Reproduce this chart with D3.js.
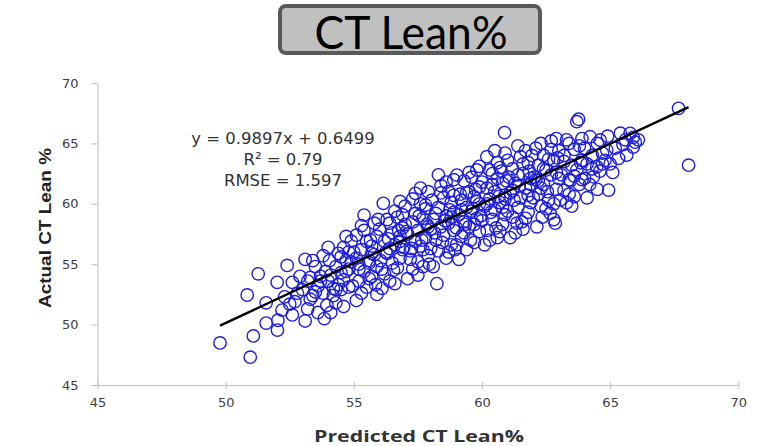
<!DOCTYPE html>
<html>
<head>
<meta charset="utf-8">
<script src="https://cdn.jsdelivr.net/npm/d3@7"></script>
<style>
  body { margin: 0; background: #fff; }
  svg { display: block; }
</style>
</head>
<body>
<svg id="chart" width="769" height="446"></svg>
<script>
// chart values
var title = 'CT Lean%'
var xLabel = 'Predicted CT Lean%'
var yLabel = 'Actual CT Lean %'
var xTicks = [45, 50, 55, 60, 65, 70]
var yTicks = [45, 50, 55, 60, 65, 70]
var slope = 0.9897
var intercept = 0.6499
var statLines = ['y = 0.9897x + 0.6499', 'R\u00b2 = 0.79', 'RMSE = 1.597']

// [predicted, actual]
var points = [
    [49.78, 48.48], [50.84, 52.45], [50.96, 47.3], [51.08, 49.06], [51.27, 54.2], [51.58, 51.8], [51.58, 50.13],
    [52.01, 53.5], [52.04, 50.36], [52.02, 49.55], [52.4, 54.9], [52.6, 53.5], [52.6, 50.8], [53.1, 50.3],
    [53.1, 55.4], [53.4, 55.3], [53.85, 50.5],
    [52.3, 52.3], [52.5, 51.7], [52.8, 52.6], [52.9, 54.0], [52.2, 51.2],
    [53.2, 51.3], [53.3, 52.1], [53.5, 52.7], [53.6, 53.2], [53.2, 53.6], [53.7, 54.0], [53.9, 54.4],
    [53.5, 54.8], [53.8, 55.7], [53.4, 52.4], [53.7, 53.6], [53.95, 51.6], [53.3, 53.9],
    [54.1, 51.0], [54.3, 51.8], [54.2, 52.4], [54.5, 52.9], [54.4, 53.3], [54.6, 53.7], [54.1, 54.1],
    [54.7, 54.4], [54.3, 54.8], [54.9, 55.2], [54.5, 55.6], [54.8, 56.0], [54.6, 56.4], [54.9, 56.9],
    [54.7, 57.3], [54.2, 53.0], [54.8, 54.6], [54.4, 55.9], [54.95, 53.2], [54.05, 55.3],
    [55.1, 52.0], [55.3, 52.6], [55.5, 53.1], [55.2, 53.6], [55.7, 54.0], [55.4, 54.4], [55.9, 54.8],
    [55.6, 55.1], [55.1, 55.5], [55.8, 55.8], [55.3, 56.2], [55.7, 56.5], [55.5, 56.9], [55.9, 57.3],
    [55.4, 57.8], [55.8, 58.4], [55.95, 58.7], [55.2, 54.6], [55.6, 55.3], [55.0, 56.0], [55.85, 53.3],
    [55.65, 57.0], [55.4, 59.07],
    [56.1, 53.0], [56.4, 53.6], [56.2, 54.2], [56.7, 54.7], [56.5, 55.1], [56.8, 55.5], [56.3, 55.9],
    [56.9, 56.2], [56.6, 56.6], [56.2, 56.9], [56.8, 57.3], [56.5, 57.6], [56.9, 58.0], [56.4, 58.4],
    [56.7, 58.9], [56.6, 59.4], [56.15, 60.04], [56.05, 55.3], [56.95, 56.4], [56.35, 57.1], [56.75, 57.8],
    [56.55, 54.5], [56.25, 56.0], [56.8, 60.2],
    [57.1, 53.8], [57.3, 54.6], [57.7, 54.8], [57.5, 55.2], [57.9, 55.7], [57.2, 56.1], [57.6, 56.5],
    [57.4, 56.9], [57.8, 57.2], [57.1, 57.5], [57.5, 57.8], [57.9, 58.1], [57.3, 58.5], [57.7, 58.8],
    [57.4, 59.2], [57.8, 59.6], [57.6, 60.0], [57.4, 60.87], [57.9, 61.0], [57.25, 56.3], [57.65, 57.0],
    [57.05, 57.7], [57.85, 58.3], [57.55, 59.0], [57.95, 55.0],
    [58.24, 53.4], [58.1, 54.8], [58.6, 55.5], [58.3, 56.1], [58.8, 56.6], [58.2, 57.0], [58.5, 57.4],
    [58.9, 57.8], [58.4, 58.1], [58.7, 58.4], [58.1, 58.7], [58.6, 59.0], [58.9, 59.3], [58.3, 59.7],
    [58.8, 60.1], [58.5, 60.5], [58.7, 61.0], [58.4, 61.5], [58.9, 62.0], [58.3, 62.4], [58.15, 57.6],
    [58.55, 58.6], [58.75, 59.5], [58.45, 56.8], [58.05, 60.3], [58.95, 56.2],
    [59.1, 55.4], [59.4, 56.2], [59.7, 56.8], [59.2, 57.3], [59.9, 57.7], [59.5, 58.1], [59.3, 58.5],
    [59.8, 58.8], [59.1, 59.1], [59.6, 59.4], [59.4, 59.7], [59.9, 60.0], [59.2, 60.3], [59.7, 60.6],
    [59.5, 61.0], [59.9, 61.4], [59.3, 61.9], [59.02, 62.38], [59.8, 62.8], [59.35, 58.3], [59.65, 59.6],
    [59.15, 60.8], [59.55, 57.0], [59.75, 61.2], [59.95, 59.0],
    [60.1, 56.6], [60.3, 57.0], [60.6, 57.2], [60.2, 57.8], [60.8, 58.3], [60.4, 58.7], [60.9, 59.1],
    [60.5, 59.5], [60.1, 59.8], [60.7, 60.1], [60.3, 60.4], [60.9, 60.7], [60.5, 61.0], [60.2, 61.3],
    [60.8, 61.7], [60.6, 62.1], [60.4, 62.5], [60.7, 63.0], [60.19, 63.9], [60.9, 64.2], [60.88, 65.9],
    [60.35, 59.3], [60.65, 60.6], [60.95, 61.9], [60.55, 58.0], [60.75, 62.7],
    [61.1, 57.2], [61.36, 58.4], [61.6, 57.9], [61.2, 58.9], [61.8, 59.3], [61.4, 59.7], [61.9, 60.1],
    [61.5, 60.5], [61.1, 60.9], [61.7, 61.3], [61.3, 61.7], [61.9, 62.1], [61.6, 62.5], [61.2, 62.9],
    [61.8, 63.4], [61.5, 63.9], [61.7, 64.4], [61.25, 60.3], [61.45, 61.5], [61.85, 62.7], [61.05, 62.2],
    [61.95, 64.0], [61.55, 58.5],
    [62.14, 58.1], [62.86, 58.4], [62.8, 58.7], [62.66, 59.2], [62.3, 59.8], [62.6, 60.3], [62.2, 60.8],
    [62.9, 61.2], [62.4, 61.6], [62.1, 62.0], [62.7, 62.4], [62.5, 62.8], [62.2, 63.2], [62.8, 63.6],
    [62.4, 64.0], [62.7, 64.5], [62.3, 65.0], [62.9, 65.4], [62.55, 61.0], [62.05, 62.2], [62.95, 63.8],
    [62.35, 58.9],
    [63.05, 60.3], [63.3, 60.1], [63.6, 60.6], [63.2, 61.1], [63.8, 61.6], [63.4, 62.0], [63.1, 62.4],
    [63.7, 62.8], [63.5, 63.2], [63.9, 63.6], [63.2, 64.0], [63.6, 64.5], [63.4, 65.0], [63.9, 65.4],
    [63.7, 66.8], [63.77, 67.0], [63.45, 61.9], [63.85, 63.4], [63.3, 65.3],
    [64.1, 60.5], [64.94, 61.14], [64.35, 62.24], [64.2, 61.6], [64.6, 62.7], [64.48, 63.07], [64.8, 63.6],
    [64.3, 64.0], [64.87, 64.45], [64.5, 65.0], [64.61, 65.28], [64.22, 65.55], [64.7, 63.3], [64.1, 63.3],
    [65.1, 62.6], [65.33, 63.77], [65.65, 64.04], [65.2, 64.6], [65.98, 65.1], [65.4, 65.84], [65.78, 65.83],
    [65.5, 64.9], [65.9, 64.7],
    [66.1, 65.3], [67.67, 67.9], [68.06, 63.2],
    // denser core
    [52.7, 51.9], [53.0, 52.9], [53.6, 51.0], [53.8, 52.6], [54.0, 53.6], [54.3, 52.9], [54.6, 51.5],
    [54.8, 53.1], [54.5, 54.3], [54.0, 56.4], [54.7, 55.3], [55.1, 57.4], [55.3, 58.2], [55.6, 53.8],
    [55.9, 52.5], [55.2, 55.0], [55.7, 55.9], [56.0, 57.9], [56.3, 58.7], [56.9, 59.1], [56.1, 54.6],
    [56.6, 53.4], [56.4, 56.3], [56.8, 56.9], [57.0, 59.8], [57.3, 60.4], [57.2, 55.4], [57.5, 54.1],
    [57.7, 56.2], [57.0, 58.3], [57.8, 59.9], [57.6, 61.3], [58.0, 57.9], [58.2, 59.2], [58.4, 60.9],
    [58.6, 61.8], [58.8, 58.9], [58.0, 56.3], [58.7, 56.0], [58.9, 60.7], [59.0, 58.0], [59.2, 59.5],
    [59.4, 60.9], [59.6, 62.2], [59.8, 60.2], [59.0, 56.6], [59.3, 57.6], [59.7, 58.3], [59.5, 62.6],
    [59.9, 63.1], [60.0, 58.6], [60.2, 60.0], [60.4, 61.6], [60.6, 63.4], [60.8, 59.7], [60.0, 61.8],
    [60.3, 62.8], [60.7, 57.7], [60.9, 60.4], [60.5, 64.4], [61.0, 59.4], [61.2, 61.1], [61.4, 62.4],
    [61.6, 63.3], [61.8, 60.7], [61.0, 63.6], [61.3, 57.6], [61.7, 58.8], [61.9, 61.6], [61.4, 64.8],
    [62.0, 60.5], [62.2, 61.9], [62.4, 62.9], [62.6, 63.7], [62.8, 60.0], [62.1, 64.6], [62.5, 59.6],
    [62.9, 62.6], [62.3, 61.3], [62.7, 65.2], [63.0, 62.1], [63.2, 63.5], [63.4, 60.8], [63.6, 62.3],
    [63.8, 64.8], [63.0, 64.4], [63.5, 59.8], [63.9, 62.0], [64.0, 64.6], [64.3, 62.9], [64.5, 61.2],
    [64.7, 64.2], [64.9, 65.6], [64.0, 62.1], [65.0, 63.3], [65.6, 65.3], [65.9, 65.5]
]

var svg = d3.select('#chart')

// plot area
var x = d3.scaleLinear().domain([45, 70]).range([97.5, 738.3])
var y = d3.scaleLinear().domain([45, 70]).range([385, 83])

// title box
svg.append('rect')
    .attr('x', 280).attr('y', 6)
    .attr('width', 260).attr('height', 47)
    .attr('rx', 6)
    .attr('fill', '#c0c0c0')
    .attr('stroke', '#58595b')
    .attr('stroke-width', 4)

svg.append('text')
    .attr('x', 411).attr('y', 49)
    .attr('text-anchor', 'middle')
    .attr('font-family', 'Lato, "Open Sans", sans-serif')
    .attr('font-size', 46)
    .attr('textLength', 193)
    .attr('lengthAdjust', 'spacingAndGlyphs')
    .attr('fill', '#000')
    .text(title)

// axes
var xAxis = svg.append('g')
    .attr('transform', 'translate(0,' + y(45) + ')')
    .call(d3.axisBottom(x).tickValues(xTicks).tickSize(4).tickSizeOuter(0))

xAxis.selectAll('.tick line').attr('y1', -3).attr('y2', 4)

var yAxis = svg.append('g')
    .attr('transform', 'translate(' + x(45) + ',0)')
    .call(d3.axisLeft(y).tickValues(yTicks).tickSize(6).tickSizeOuter(0))

svg.selectAll('.domain, .tick line')
    .attr('stroke', '#c4c4c4')
    .attr('stroke-width', 1.2)

xAxis.selectAll('.tick text')
    .attr('y', 13)
    .attr('dy', '0.71em')
svg.selectAll('.tick text')
    .attr('font-family', '"DejaVu Sans", Verdana, sans-serif')
    .attr('font-size', 13)
    .attr('fill', '#404040')
yAxis.selectAll('.tick text').attr('x', -19)

// axis titles
svg.append('text')
    .attr('x', 419).attr('y', 442)
    .attr('text-anchor', 'middle')
    .attr('font-family', '"Open Sans", sans-serif')
    .attr('font-weight', 'bold')
    .attr('font-size', 16.5)
    .attr('textLength', 210)
    .attr('lengthAdjust', 'spacingAndGlyphs')
    .attr('fill', '#333')
    .text(xLabel)

svg.append('text')
    .attr('transform', 'translate(51,228) rotate(-90)')
    .attr('text-anchor', 'middle')
    .attr('font-family', '"Liberation Sans", Arial, sans-serif')
    .attr('font-weight', 'bold')
    .attr('font-size', 17)
    .attr('textLength', 160)
    .attr('lengthAdjust', 'spacingAndGlyphs')
    .attr('fill', '#222')
    .text(yLabel)

// scatter
svg.append('g').selectAll('circle')
    .data(points)
    .enter().append('circle')
    .attr('cx', function(d) { return x(d[0]) })
    .attr('cy', function(d) { return y(d[1]) })
    .attr('r', 6.2)
    .attr('fill', 'none')
    .attr('stroke', '#1f1fd4')
    .attr('stroke-width', 1.4)

// fitted line over the range of predicted values
var xExtent = d3.extent(points, function(d) { return d[0] })
svg.append('line')
    .attr('x1', x(xExtent[0])).attr('y1', y(slope * xExtent[0] + intercept))
    .attr('x2', x(xExtent[1])).attr('y2', y(slope * xExtent[1] + intercept))
    .attr('stroke', '#000')
    .attr('stroke-width', 2.4)

// regression text
svg.append('g').selectAll('text')
    .data(statLines)
    .enter().append('text')
    .attr('x', 283)
    .attr('y', function(d, i) { return 144 + i * 21.2 })
    .attr('text-anchor', 'middle')
    .attr('font-family', '"DejaVu Sans", Verdana, sans-serif')
    .attr('font-size', 16.5)
    .attr('fill', '#333')
    .text(function(d) { return d })
</script>
</body>
</html>
